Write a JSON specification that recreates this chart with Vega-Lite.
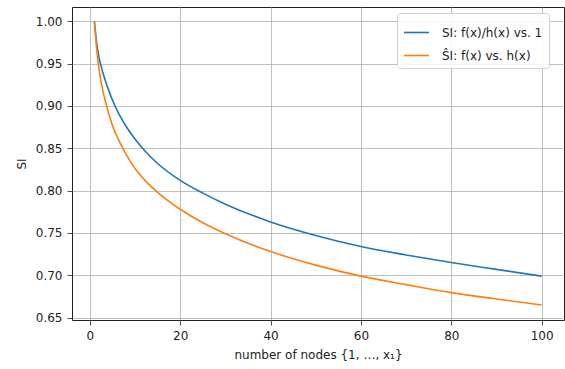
{
  "$schema": "https://vega.github.io/schema/vega-lite/v6.json",
  "width": 492,
  "height": 313,
  "autosize": {"type": "none"},
  "padding": {"left": 72, "top": 7, "right": 1, "bottom": 49},
  "background": "white",
  "config": {
    "font": "DejaVu Sans",
    "view": {"stroke": "#222", "strokeWidth": 1},
    "axis": {
      "gridColor": "#b0b0b0", "gridWidth": 0.8, "gridOpacity": 1,
      "domain": false, "tickColor": "#222", "tickSize": 5, "tickWidth": 0.8,
      "labelFont": "DejaVu Sans", "labelFontSize": 12, "labelColor": "#222",
      "titleFont": "DejaVu Sans", "titleFontSize": 12, "titleFontWeight": "normal", "titleColor": "#222"
    }
  },
  "data": {"values": [
    {"x": 1, "y": 1.0, "s": "SI: f(x)/h(x) vs. 1"},
    {"x": 1.5, "y": 0.975, "s": "SI: f(x)/h(x) vs. 1"},
    {"x": 2, "y": 0.958, "s": "SI: f(x)/h(x) vs. 1"},
    {"x": 2.5, "y": 0.947, "s": "SI: f(x)/h(x) vs. 1"},
    {"x": 3, "y": 0.937, "s": "SI: f(x)/h(x) vs. 1"},
    {"x": 4, "y": 0.921, "s": "SI: f(x)/h(x) vs. 1"},
    {"x": 5, "y": 0.907, "s": "SI: f(x)/h(x) vs. 1"},
    {"x": 6, "y": 0.895, "s": "SI: f(x)/h(x) vs. 1"},
    {"x": 7, "y": 0.885, "s": "SI: f(x)/h(x) vs. 1"},
    {"x": 8, "y": 0.876, "s": "SI: f(x)/h(x) vs. 1"},
    {"x": 10, "y": 0.861, "s": "SI: f(x)/h(x) vs. 1"},
    {"x": 12, "y": 0.848, "s": "SI: f(x)/h(x) vs. 1"},
    {"x": 15, "y": 0.832, "s": "SI: f(x)/h(x) vs. 1"},
    {"x": 20, "y": 0.812, "s": "SI: f(x)/h(x) vs. 1"},
    {"x": 25, "y": 0.797, "s": "SI: f(x)/h(x) vs. 1"},
    {"x": 30, "y": 0.784, "s": "SI: f(x)/h(x) vs. 1"},
    {"x": 40, "y": 0.763, "s": "SI: f(x)/h(x) vs. 1"},
    {"x": 50, "y": 0.747, "s": "SI: f(x)/h(x) vs. 1"},
    {"x": 60, "y": 0.734, "s": "SI: f(x)/h(x) vs. 1"},
    {"x": 70, "y": 0.724, "s": "SI: f(x)/h(x) vs. 1"},
    {"x": 80, "y": 0.715, "s": "SI: f(x)/h(x) vs. 1"},
    {"x": 90, "y": 0.707, "s": "SI: f(x)/h(x) vs. 1"},
    {"x": 100, "y": 0.699, "s": "SI: f(x)/h(x) vs. 1"},
    {"x": 1, "y": 1.0, "s": "ŜI: f(x) vs. h(x)"},
    {"x": 1.5, "y": 0.968, "s": "ŜI: f(x) vs. h(x)"},
    {"x": 2, "y": 0.945, "s": "ŜI: f(x) vs. h(x)"},
    {"x": 2.5, "y": 0.928, "s": "ŜI: f(x) vs. h(x)"},
    {"x": 3, "y": 0.915, "s": "ŜI: f(x) vs. h(x)"},
    {"x": 4, "y": 0.894, "s": "ŜI: f(x) vs. h(x)"},
    {"x": 5, "y": 0.877, "s": "ŜI: f(x) vs. h(x)"},
    {"x": 6, "y": 0.864, "s": "ŜI: f(x) vs. h(x)"},
    {"x": 7, "y": 0.853, "s": "ŜI: f(x) vs. h(x)"},
    {"x": 8, "y": 0.843, "s": "ŜI: f(x) vs. h(x)"},
    {"x": 10, "y": 0.826, "s": "ŜI: f(x) vs. h(x)"},
    {"x": 12, "y": 0.8133, "s": "ŜI: f(x) vs. h(x)"},
    {"x": 15, "y": 0.798, "s": "ŜI: f(x) vs. h(x)"},
    {"x": 20, "y": 0.778, "s": "ŜI: f(x) vs. h(x)"},
    {"x": 25, "y": 0.762, "s": "ŜI: f(x) vs. h(x)"},
    {"x": 30, "y": 0.749, "s": "ŜI: f(x) vs. h(x)"},
    {"x": 40, "y": 0.728, "s": "ŜI: f(x) vs. h(x)"},
    {"x": 50, "y": 0.712, "s": "ŜI: f(x) vs. h(x)"},
    {"x": 60, "y": 0.699, "s": "ŜI: f(x) vs. h(x)"},
    {"x": 70, "y": 0.689, "s": "ŜI: f(x) vs. h(x)"},
    {"x": 80, "y": 0.6795, "s": "ŜI: f(x) vs. h(x)"},
    {"x": 90, "y": 0.672, "s": "ŜI: f(x) vs. h(x)"},
    {"x": 100, "y": 0.665, "s": "ŜI: f(x) vs. h(x)"}
  ]},
  "mark": {"type": "line", "strokeWidth": 1.6, "interpolate": "monotone", "clip": true},
  "encoding": {
    "x": {
      "field": "x", "type": "quantitative",
      "scale": {"domain": [-3.95, 104.95], "nice": false, "zero": false},
      "axis": {"values": [0, 20, 40, 60, 80, 100], "title": "number of nodes {1, …, x₁}", "titlePadding": 8, "labelPadding": 5}
    },
    "y": {
      "field": "y", "type": "quantitative",
      "scale": {"domain": [0.6472, 1.0168], "nice": false, "zero": false},
      "axis": {"values": [0.65, 0.7, 0.75, 0.8, 0.85, 0.9, 0.95, 1.0], "format": ".2f", "title": "SI", "titlePadding": 7, "labelPadding": 5}
    },
    "color": {
      "field": "s", "type": "nominal",
      "sort": ["SI: f(x)/h(x) vs. 1", "ŜI: f(x) vs. h(x)"],
      "scale": {"range": ["#1f77b4", "#ff7f0e"]},
      "legend": {
        "title": null, "orient": "none", "legendX": 325, "legendY": 6,
        "fillColor": "rgba(255,255,255,0.85)", "strokeColor": "#d0d0d0", "cornerRadius": 3,
        "padding": 6, "symbolType": "stroke", "symbolSize": 625, "symbolStrokeWidth": 1.6,
        "labelFontSize": 12, "labelColor": "#222", "rowPadding": 3, "labelOffset": 12
      }
    }
  }
}
